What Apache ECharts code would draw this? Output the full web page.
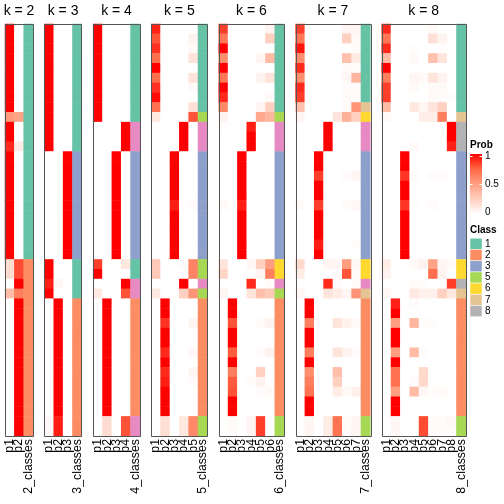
<!DOCTYPE html>
<html><head><meta charset="utf-8">
<script src="https://cdn.jsdelivr.net/npm/echarts@6/dist/echarts.min.js"></script>
<style>html,body{margin:0;padding:0;background:#fff}#c{width:504px;height:504px}</style>
</head><body><div id="c"></div>
<script>
// ---------------- data ----------------
const kValues = [2, 3, 4, 5, 6, 7, 8];
const rowCount = 42;

const prob_k2 = [
  [1,1,1,1,1,1,1,1,1,0.52, 1,1,0.9,1,1,1,1,1,1,1, 1,1,1,1,0.18,0.18,0,0.35,0,0, 0,0,0,0,0,0,0,0,0,0, 0,0],
  [0,0,0,0,0,0,0,0,0,0.48, 0,0,0.1,0,0,0,0,0,0,0, 0,0,0,0,0.82,0.82,1,0.65,1,1, 1,1,1,1,1,1,1,1,1,1, 1,1]
];
const class_k2 = [1,1,1,1,1,1,1,1,1,1, 1,1,1,1,1,1,1,1,1,1, 1,1,1,1,2,2,2,2,2,2, 2,2,2,2,2,2,2,2,2,2, 2,2];

const prob_k3 = [
  [1,1,1,1,1,1,1,1,1,1, 1,1,1,0,0,0,0,0,0,0, 0,0,0,0,1,1,0.92,1,0,0, 0,0,0,0,0,0,0,0,0,0, 0.04,0.04],
  [0,0,0,0,0,0,0,0,0,0, 0,0,0,0,0,0,0,0,0,0, 0,0,0,0,0,0,0.04,0,1,1, 1,1,1,1,1,1,1,1,1,1, 0.93,0.93],
  [0,0,0,0,0,0,0,0,0,0, 0,0,0,1,1,1,1,1,1,1, 1,1,1,1,0,0,0,0,0,0, 0,0,0,0,0,0,0,0,0,0, 0,0]
];
const class_k3 = [1,1,1,1,1,1,1,1,1,1, 1,1,1,3,3,3,3,3,3,3, 3,3,3,3,1,1,1,1,2,2, 2,2,2,2,2,2,2,2,2,2, 2,2];

const prob_k4 = [
  [1,1,1,1,1,1,1,1,1,1, 0,0,0,0,0,0,0,0,0,0, 0,0,0,0,0.85,1,0,0.12,0,0, 0,0,0,0,0,0,0,0,0,0, 0,0],
  [0,0,0,0,0,0,0,0,0,0, 0,0,0,0,0,0,0,0,0,0, 0,0,0,0,0,0,0,0,1,1, 1,1,1,1,1,1,1,1,1,1, 0.18,0.18],
  [0,0,0,0,0,0,0,0,0,0, 0,0,0,1,1,1,1,1,1,1, 1,1,1,1,0,0,0,0,0,0, 0,0,0,0,0,0,0,0,0,0, 0,0],
  [0,0,0,0,0,0,0,0,0,0, 1,1,1,0,0,0,0,0,0,0, 0,0,0,0,0.12,0,1,0.8,0,0, 0,0,0,0,0,0,0,0,0,0, 0.8,0.8]
];
const class_k4 = [1,1,1,1,1,1,1,1,1,1, 4,4,4,3,3,3,3,3,3,3, 3,3,3,3,1,1,4,4,2,2, 2,2,2,2,2,2,2,2,2,2, 4,4];

const prob_k5 = [
  [0.92,0.8,0.88,0.72,1,0.72,0.88,0.97,0.7,0.12, 0,0,0,0,0,0,0,0,0,0, 0,0,0,0,0.28,0.28,0,0.12,0,0, 0,0,0,0,0,0,0,0,0,0, 0,0],
  [0,0,0,0,0,0,0,0,0,0, 0,0,0,0,0,0,0,0,0,0, 0,0,0,0,0,0,0,0,1,1, 0.88,1,1,0.9,1,0.9,0.93,1,1,1, 0.17,0.17],
  [0,0,0,0,0,0,0,0,0,0, 0,0,0,1,1,1,1,1,0.93,1, 1,1,1,1,0,0,0,0,0,0, 0,0,0,0,0,0,0,0,0,0, 0,0],
  [0,0,0,0,0,0,0,0,0,0, 1,1,1,0,0,0,0,0,0,0, 0,0,0,0,0.02,0,1,0.25,0,0, 0,0,0,0,0,0,0,0,0,0, 0.12,0.12],
  [0,0.06,0.03,0.15,0,0.15,0.03,0,0.16,0.8, 0,0,0,0,0,0,0,0,0.02,0, 0,0,0,0,0.62,0.62,0,0.55,0,0, 0.05,0,0,0.04,0,0.05,0.02,0,0,0, 0.6,0.6]
];
const class_k5 = [1,1,1,1,1,1,1,1,1,5, 4,4,4,3,3,3,3,3,3,3, 3,3,3,3,5,5,4,5,2,2, 2,2,2,2,2,2,2,2,2,2, 5,5];

const prob_k6 = [
  [0.85,0.68,1,0.58,1,0.68,1,0.9,0.6,0.06, 0.01,0,0,0,0,0,0,0,0.03,0, 0,0,0,0,0.14,0.22,0,0.05,0,0, 0,0,0,0,0,0,0,0,0,0, 0,0],
  [0,0,0,0,0,0,0,0,0,0, 0,0,0,0,0,0,0,0,0,0, 0,0,0,0,0,0,0,0,1,1, 0.8,1,1,0.78,1,0.65,0.78,0.8,1,1, 0.02,0.03],
  [0,0,0,0,0,0,0,0,0,0, 0,0,0,1,1,1,1,1,0.93,1, 1,1,1,1,0,0,0,0,0,0, 0,0,0,0,0,0,0,0,0,0, 0,0],
  [0,0,0,0,0,0,0,0,0,0, 0.93,1,1,0,0,0,0,0,0,0, 0,0,0,0,0.04,0,0.9,0.14,0,0, 0,0,0,0,0,0,0.02,0,0,0, 0.05,0.05],
  [0,0,0,0.05,0,0.06,0,0,0.05,0.45, 0,0,0,0,0,0,0,0,0,0, 0,0,0,0,0.25,0.05,0,0.33,0,0, 0.02,0,0,0.02,0,0.25,0.06,0.02,0,0, 0.85,0.85],
  [0.06,0.25,0,0.35,0,0.15,0,0.03,0.25,0.38, 0,0,0,0,0,0,0,0,0,0, 0,0,0,0,0.5,0.65,0.02,0.28,0,0, 0.06,0,0,0.06,0,0,0,0.03,0,0, 0,0]
];
const class_k6 = [1,1,1,1,1,1,1,1,1,5, 4,4,4,3,3,3,3,3,3,3, 3,3,3,3,6,6,4,5,2,2, 2,2,2,2,2,2,2,2,2,2, 5,5];

const prob_k7 = [
  [0.85,0.68,0.95,0.58,0.9,0.58,0.9,0.85,0.32,0.05, 0,0,0,0,0,0,0,0,0.03,0, 0,0,0,0,0.2,0.1,0,0.05,0,0, 0,0,0,0,0,0,0,0,0,0, 0,0],
  [0,0,0,0,0,0,0,0,0,0, 0,0,0,0,0,0,0,0,0,0, 0,0,0,0,0,0,0,0,1,1, 0.65,1,1,0.65,1,0.58,0.65,0.7,1,1, 0.05,0.05],
  [0,0,0,0,0,0,0,0,0,0, 0,0,0,1,1,0.85,1,1,0.85,1, 1,1,0.93,1,0,0,0,0,0,0, 0,0,0,0,0,0,0,0,0,0, 0,0],
  [0,0,0,0,0,0,0,0,0,0, 1,1,1,0,0,0,0,0,0,0, 0,0,0,0,0.05,0,0.9,0.14,0,0, 0,0,0,0,0,0,0,0,0,0, 0.1,0.1],
  [0,0,0,0,0,0,0,0,0,0.14, 0,0,0,0,0,0,0,0,0,0, 0,0,0,0,0.05,0.02,0.02,0.1,0,0, 0.14,0,0,0.14,0,0.33,0.25,0.1,0,0, 0.7,0.7],
  [0.05,0.25,0,0.32,0.03,0.04,0.02,0.03,0.03,0.4, 0,0,0,0,0,0.02,0,0,0.02,0, 0,0,0,0,0.5,0.8,0,0.05,0,0, 0.07,0,0,0.06,0,0,0,0.03,0,0, 0.02,0.02],
  [0.05,0.03,0.02,0.1,0.01,0.38,0.02,0.02,0.55,0.25, 0,0,0,0,0,0.05,0,0,0.04,0, 0,0,0.01,0,0.04,0.03,0.02,0.55,0,0, 0.03,0,0,0.02,0,0,0,0.08,0,0, 0.05,0.05]
];
const class_k7 = [1,1,1,1,1,1,1,1,7,6, 4,4,4,3,3,3,3,3,3,3, 3,3,3,3,6,6,4,7,2,2, 2,2,2,2,2,2,2,2,2,2, 5,5];

const prob_k8 = [
  [0.9,0.68,0.9,0.35,1,0.65,0.85,0.85,0.35,0.03, 0,0,0,0,0,0,0,0,0,0, 0,0,0,0,0.1,0.06,0,0.04,0,0, 0,0,0,0,0,0,0,0,0,0, 0,0],
  [0,0,0,0,0,0,0,0,0,0, 0,0,0,0,0,0,0,0,0,0, 0,0,0,0,0,0,0,0,0.92,1, 0.5,1,1,0.5,1,0.7,0.7,0.5,1,1, 0.04,0.04],
  [0,0,0,0,0,0,0,0,0,0, 0,0,0,1,1,0.87,1,1,0.87,1, 1,1,1,1,0,0,0,0,0,0, 0,0,0,0,0,0,0,0,0,0, 0,0],
  [0,0,0.01,0.03,0,0.05,0.03,0,0.12,0, 0,0,0.03,0,0,0.02,0,0,0.01,0, 0,0,0,0,0.03,0,0.02,0.12,0.02,0, 0.38,0,0,0.35,0,0,0.02,0.35,0,0, 0,0],
  [0,0,0,0,0,0.03,0,0,0.05,0.09, 0,0,0,0,0,0,0,0,0,0, 0,0,0,0,0.06,0,0.01,0.07,0,0, 0.02,0,0,0.02,0,0.2,0.2,0.04,0,0, 0.82,0.82],
  [0.03,0.16,0,0.32,0,0.14,0.03,0.03,0.14,0.09, 0,0,0,0,0,0.02,0,0,0.02,0, 0,0,0,0,0.48,0.72,0,0.08,0,0, 0.01,0,0,0,0,0,0,0.01,0,0, 0.02,0.02],
  [0,0.06,0.01,0.14,0,0.06,0.03,0.02,0.25,0.65, 0,0,0,0,0,0.02,0,0,0,0, 0,0,0,0,0.05,0.06,0,0.25,0,0, 0,0,0,0,0,0,0,0.03,0,0, 0.02,0.02],
  [0,0,0,0,0,0,0,0.01,0,0, 1,1,0.92,0,0,0,0,0,0,0, 0,0,0,0,0.03,0,0.85,0.12,0,0, 0,0,0,0,0,0,0,0,0,0, 0.04,0.02]
];
const class_k8 = [1,1,1,1,1,1,1,1,1,7, 8,8,8,3,3,3,3,3,3,3, 3,3,3,3,6,6,8,7,2,2, 2,2,2,2,2,2,2,2,2,2, 5,5];

const classColors = {1:'#66C2A5', 2:'#FC8D62', 3:'#8DA0CB', 4:'#E78AC3', 5:'#A6D854', 6:'#FFD92F', 7:'#E5C494', 8:'#B3B3B3'};
const legendClasses = [1, 2, 3, 5, 6, 7, 8];
const probTicks = [0, 0.5, 1];
const probTickLabels = ['0', '0.5', '1'];
const probRamp = ['#ffffff', '#ffcfbf', '#ff9e81', '#ff6846', '#ff0000'];

// ---------------- layout ----------------
const probs = {2:prob_k2, 3:prob_k3, 4:prob_k4, 5:prob_k5, 6:prob_k6, 7:prob_k7, 8:prob_k8};
const classes = {2:class_k2, 3:class_k3, 4:class_k4, 5:class_k5, 6:class_k6, 7:class_k7, 8:class_k8};
const FONT = 'Liberation Sans, Arial, Helvetica, sans-serif';
const TOP = 24, H = 412, LEFT0 = 5, COLW = 9.35, GAP = 11.35;
const rowCats = []; for (let i = 0; i < rowCount; i++) rowCats.push(String(i));

const grids = [], xAxes = [], yAxes = [], series = [], graphics = [];
const probIdx = [], classIdx = [];
let x0 = LEFT0;
kValues.forEach((k, gi) => {
  const ncol = k + 1, w = ncol * COLW;
  grids.push({left: x0, top: TOP, width: w, height: H, show: false});
  const cats = [];
  for (let j = 1; j <= k; j++) cats.push('p' + j);
  cats.push(k + '_classes');
  xAxes.push({type: 'category', gridIndex: gi, data: cats, position: 'bottom',
    axisLine: {show: false}, axisTick: {show: false}, splitLine: {show: false},
    axisLabel: {rotate: 90, interval: 0, fontSize: 12.3, color: '#000', margin: 3, fontFamily: FONT}});
  yAxes.push({type: 'category', gridIndex: gi, data: rowCats, inverse: true, show: false});
  const pd = [];
  probs[k].forEach((col, j) => col.forEach((v, r) => pd.push([j, r, v])));
  probIdx.push(series.length);
  series.push({type: 'heatmap', xAxisIndex: gi, yAxisIndex: gi, data: pd,
    itemStyle: {borderWidth: 0}, emphasis: {disabled: true}, progressive: 0});
  const cd = classes[k].map((c, r) => [k, r, c]);
  classIdx.push(series.length);
  series.push({type: 'heatmap', xAxisIndex: gi, yAxisIndex: gi, data: cd,
    itemStyle: {borderWidth: 0}, emphasis: {disabled: true}, progressive: 0});
  graphics.push({type: 'rect', z: 100, silent: true,
    shape: {x: Math.round(x0) + 0.5, y: TOP + 0.5, width: Math.round(w), height: H},
    style: {fill: 'none', stroke: '#555', lineWidth: 1}});
  graphics.push({type: 'text', z: 100, x: x0 + w / 2, y: 11,
    style: {text: 'k = ' + k, font: '14px ' + FONT, fill: '#000', textAlign: 'center', textVerticalAlign: 'middle'}});
  x0 += w + GAP;
});

// legend: Prob
const LX = 470;
graphics.push({type: 'text', x: LX, y: 145.5, style: {text: 'Prob', font: 'bold 10px ' + FONT, fill: '#000', textVerticalAlign: 'middle'}});
const barTop = 154, barH = 60;
graphics.push({type: 'rect', shape: {x: LX, y: barTop, width: 12, height: barH},
  style: {fill: new echarts.graphic.LinearGradient(0, 0, 0, 1, probRamp.slice().reverse().map((c, i) => ({offset: i / (probRamp.length - 1), color: c})))}});
probTicks.forEach((t, i) => {
  const y = 212.5 - 56 * t;
  graphics.push({type: 'line', shape: {x1: LX, y1: y, x2: LX + 2.5, y2: y}, style: {stroke: '#fff', lineWidth: 1}});
  graphics.push({type: 'line', shape: {x1: LX + 9.5, y1: y, x2: LX + 12, y2: y}, style: {stroke: '#fff', lineWidth: 1}});
  graphics.push({type: 'text', x: 485, y: y, style: {text: probTickLabels[i], font: '10px ' + FONT, fill: '#000', textVerticalAlign: 'middle'}});
});
// legend: Class
graphics.push({type: 'text', x: LX, y: 230.5, style: {text: 'Class', font: 'bold 10px ' + FONT, fill: '#000', textVerticalAlign: 'middle'}});
legendClasses.forEach((c, i) => {
  const y = 238.3 + i * 11.2;
  graphics.push({type: 'rect', shape: {x: LX, y: y, width: 12, height: 11.2}, style: {fill: classColors[c], stroke: '#fff', lineWidth: 0.5}});
  graphics.push({type: 'text', x: 485, y: y + 5.6, style: {text: String(c), font: '10px ' + FONT, fill: '#000', textVerticalAlign: 'middle'}});
});

const chart = echarts.init(document.getElementById('c'), null, {renderer: 'canvas'});
chart.setOption({
  animation: false,
  grid: grids, xAxis: xAxes, yAxis: yAxes, series: series,
  visualMap: [
    {type: 'continuous', min: 0, max: 1, dimension: 2, seriesIndex: probIdx, show: false, inRange: {color: probRamp}},
    {type: 'piecewise', dimension: 2, seriesIndex: classIdx, show: false,
      pieces: Object.keys(classColors).map(c => ({value: +c, color: classColors[c]}))}
  ],
  graphic: graphics
});
</script>
</body></html>
